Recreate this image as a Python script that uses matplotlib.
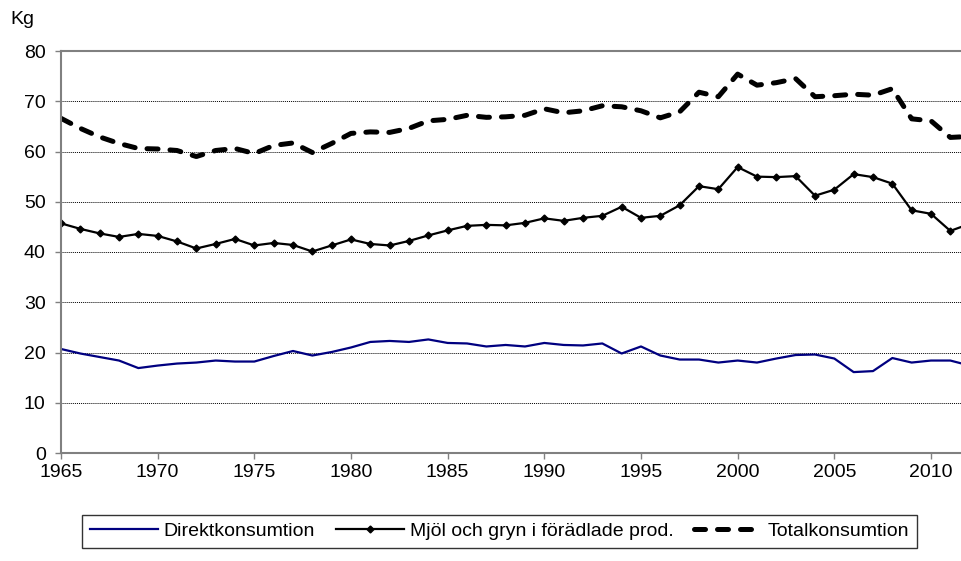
import numpy as np
import matplotlib
matplotlib.use("Agg")
import matplotlib.pyplot as plt

plt.rcParams['font.family'] = ['Liberation Sans', 'DejaVu Sans']

years = list(range(1965, 2013))

direkt = [20.7, 19.8, 19.1, 18.4, 16.9, 17.4, 17.8, 18.0, 18.4, 18.2,
          18.2, 19.3, 20.3, 19.4, 20.1, 21.0, 22.1, 22.3, 22.1, 22.6,
          21.9, 21.8, 21.2, 21.5, 21.2, 21.9, 21.5, 21.4, 21.8, 19.8,
          21.2, 19.4, 18.6, 18.6, 18.0, 18.4, 18.0, 18.8, 19.5, 19.6,
          18.8, 16.1, 16.3, 18.9, 18.0, 18.4, 18.4, 17.4]

mjol = [45.7, 44.6, 43.7, 43.0, 43.6, 43.2, 42.1, 40.7, 41.6, 42.6,
        41.3, 41.8, 41.4, 40.1, 41.3, 42.5, 41.6, 41.3, 42.2, 43.3,
        44.3, 45.2, 45.4, 45.3, 45.8, 46.7, 46.2, 46.8, 47.2, 49.0,
        46.8, 47.2, 49.3, 53.1, 52.5, 56.9, 55.0, 54.9, 55.1, 51.2,
        52.4, 55.5, 54.9, 53.6, 48.3, 47.6, 44.2, 45.6]

total = [66.6, 64.6, 62.9, 61.6, 60.6, 60.5, 60.2, 59.0, 60.2, 60.6,
         59.6, 61.2, 61.7, 59.8, 61.6, 63.6, 63.9, 63.8, 64.6, 66.1,
         66.4, 67.2, 66.8, 66.9, 67.2, 68.5, 67.7, 68.1, 69.1, 68.9,
         68.1, 66.7, 67.9, 71.8, 70.9, 75.4, 73.2, 73.7, 74.5, 70.9,
         71.1, 71.4, 71.2, 72.5, 66.5, 66.1, 62.8, 63.0]

labels = ['Direktkonsumtion', 'Mjöl och gryn i förädlade prod.', 'Totalkonsumtion']

fig = plt.figure(figsize=(9.61, 5.61), dpi=100)
ax = fig.add_axes([61/961, 1 - 453/561, 1 - 61/961, (453 - 51)/561])

ax.plot(years, direkt, color='#000080', lw=1.6, label=labels[0])
ax.plot(years, mjol, color='black', lw=1.6, marker='D', markersize=3.5, label=labels[1])
ax.plot(years, total, color='black', lw=3.6, dashes=(2.2, 2.4),
        dash_capstyle='round', label=labels[2])

ax.set_xlim(1965, 1965 + (961 - 61) / 19.333)
ax.set_ylim(0, 80)
ax.set_xticks(range(1965, 2011, 5))
ax.set_yticks(range(0, 81, 10))
ax.tick_params(labelsize=14, color='#808080', length=4, width=1)
ax.tick_params(axis='y', pad=7)
ax.tick_params(axis='x', pad=4)

ax.grid(axis='y', color='black', linestyle=(0, (1, 1)), lw=0.7)
ax.set_axisbelow(True)
for s in ['left', 'bottom', 'top']:
    ax.spines[s].set_color('#808080')
    ax.spines[s].set_linewidth(1.5)
ax.spines['right'].set_visible(False)

fig.text(10/961, 1 - 11/561, 'Kg', fontsize=14, va='top', ha='left')

leg = fig.legend(loc='lower left', bbox_to_anchor=(82/961, 13/561, 835/961, 36/561),
                 mode='expand', ncol=3, fontsize=14, frameon=True, fancybox=False,
                 edgecolor='black', handlelength=3.5, handletextpad=0.3,
                 columnspacing=1.0, borderaxespad=0)
leg.get_frame().set_linewidth(1.0)

fig.savefig('out.png', dpi=100)
